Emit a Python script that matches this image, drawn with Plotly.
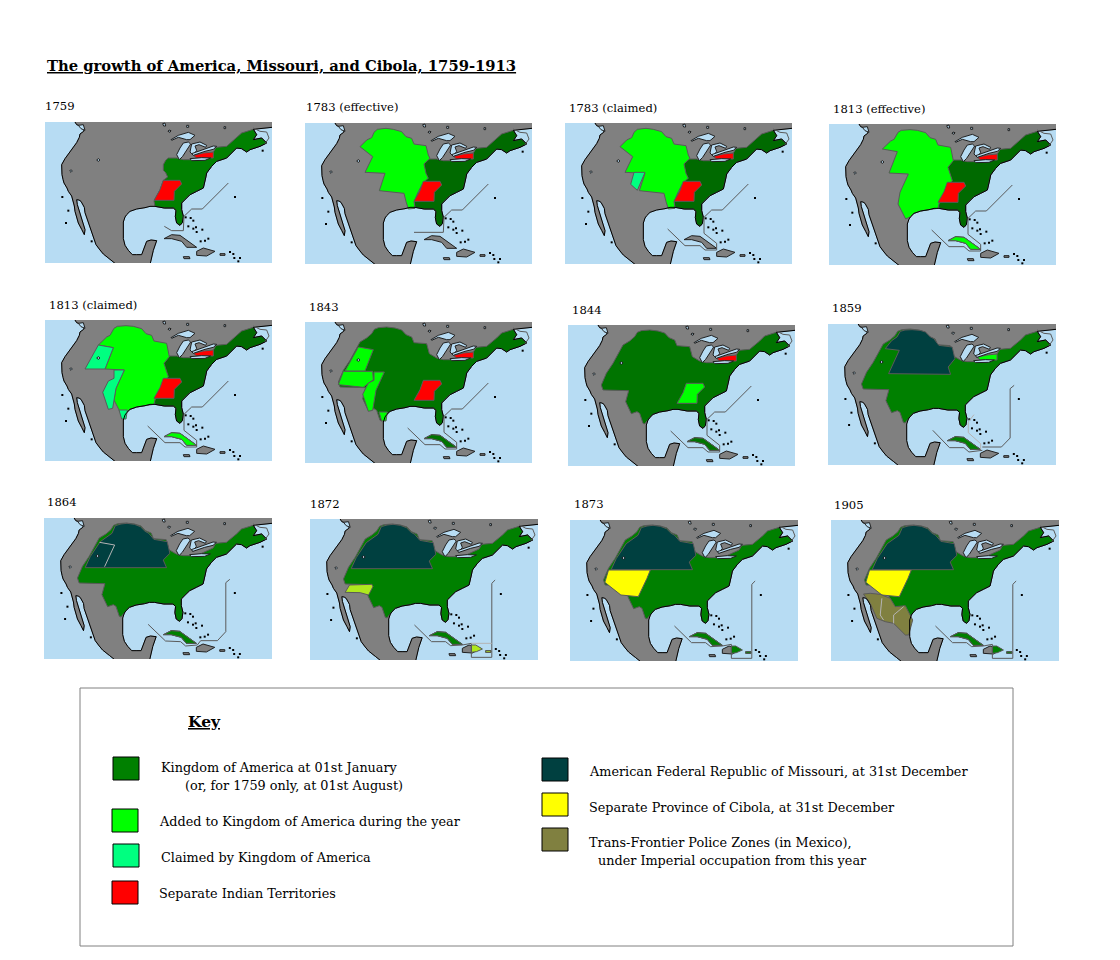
import plotly.graph_objs as go

# page size and the default body margin of the written page
PAGE_W = 1104
PAGE_H = 944
BODY = 8

# map units: the reference map at 3x, same drawing in every panel
MAP_W = 681
MAP_H = 423

LAND = [(90, -5), (90, 0), (95, 8), (106, 12), (118, 20), (116, 28), (105, 36), (103, 46), (95, 62), (86, 74), (78, 88),
        (68, 98), (60, 110), (50, 128), (50, 142), (51, 158), (54, 172), (57, 183), (66, 198), (70, 208), (80, 222),
        (85, 238), (88, 252), (90, 268), (96, 288), (100, 303), (110, 322), (118, 338), (120, 323),
        (110, 293), (103, 270), (97, 248), (95, 233), (102, 234), (108, 238), (118, 256), (120, 272), (127, 293), (134, 310),
        (140, 328), (148, 350), (153, 368), (165, 384), (175, 396), (195, 412),
        (215, 428), (315, 428), (320, 405), (325, 385), (335, 356), (318, 354), (305, 358), (298, 380), (290, 398),
        (275, 398), (262, 398), (250, 385), (240, 370), (235, 350),
        (235, 330), (235, 300), (240, 285), (245, 278), (255, 268), (275, 261), (300, 257), (315, 253), (330, 253),
        (358, 258), (385, 258), (393, 265), (391, 284), (395, 303),
        (405, 310), (412, 302), (415, 283), (410, 263), (410, 243), (422, 230), (435, 218), (455, 208), (475, 198), (482, 168),
        (485, 153), (500, 133), (515, 118), (545, 108), (555, 98),
        (575, 78), (590, 80), (605, 90), (615, 83), (645, 73), (665, 63), (650, 48), (625, 53), (635, 38), (625, 22), (655, 18),
        (690, 15), (690, -5), (90, -5)]

EAST_COAST = [(415, 113), (455, 113), (505, 90), (513, 76), (545, 73), (575, 48), (590, 33), (625, 22), (635, 38),
              (625, 53), (650, 48), (665, 63), (645, 73), (615, 83), (605, 90), (590, 80), (575, 78), (555, 98), (545, 108),
              (515, 118), (500, 133), (485, 153), (482, 168), (475, 198), (455, 208), (435, 218), (422, 230), (410, 243),
              (410, 263), (415, 283), (412, 302), (405, 310), (395, 303), (391, 284),
              (393, 265), (385, 258), (358, 258), (330, 253)]

KINGDOM_EAST = [(355, 128), (362, 115), (370, 108), (395, 108)] + EAST_COAST + [(327, 238), (345, 203), (355, 175), (368, 165), (362, 152), (355, 145)]
KINGDOM_ALL = [(100, 180), (115, 145), (135, 115), (165, 60), (185, 48), (200, 35), (208, 22), (220, 17), (245, 15), (270, 18), (290, 24), (303, 38),
               (320, 45), (327, 62), (365, 65), (373, 95), (395, 108)] + EAST_COAST + [(315, 253), (300, 257), (275, 261), (255, 268), (245, 278), (230, 297),
               (225, 295), (215, 265), (207, 260), (190, 266), (173, 230), (182, 197), (105, 195)]

RED_SOUTH = [(355, 175), (405, 175), (410, 186), (388, 208), (387, 235), (327, 235), (345, 203)]
RED_NORTH = [(445, 100), (475, 93), (505, 90), (505, 108), (455, 108)]

WEST_1783 = [(165, 71), (185, 51), (200, 44), (207, 28), (217, 19), (243, 16), (265, 19), (290, 26), (303, 41), (320, 46), (327, 63), (363, 68), (370, 96), (375, 106),
             (357, 123), (363, 151), (370, 166), (355, 178), (340, 206), (327, 236), (330, 256), (310, 258), (303, 236), (297, 211), (223, 203), (240, 151),
             (180, 148), (203, 101)]
CLAIM_1783 = [(207, 148), (240, 148), (217, 202), (197, 184)]
WEST_1813 = [(160, 75), (185, 51), (195, 46), (207, 25), (217, 19), (243, 17), (265, 19), (290, 26), (303, 41), (320, 46), (327, 63), (365, 70), (373, 110),
             (357, 130), (370, 170), (345, 205), (330, 240), (327, 253), (300, 257), (275, 261), (255, 268), (245, 278), (230, 285), (222, 270),
             (207, 240), (213, 205), (238, 150), (180, 147), (205, 83)]
OREGON = [(120, 147), (160, 75), (205, 83), (180, 147)]
CLAIM_BAND = [(207, 150), (238, 150), (213, 205), (207, 235), (203, 265), (190, 268), (173, 217), (190, 183), (207, 175)]
TEXAS_TIP = [(222, 270), (247, 270), (243, 297), (230, 297)]
ADDED_MID = [(115, 148), (203, 148), (205, 173), (175, 196), (100, 188)]

MISSOURI_1859 = [(171, 74), (190, 50), (206, 39), (216, 22), (230, 18), (251, 17), (275, 19), (291, 24), (305, 38), (316, 44), (331, 64), (371, 69), (379, 104),
                 (359, 129), (366, 151), (181, 149), (213, 79)]
MISSOURI_1864 = [(123, 149), (138, 116), (168, 71), (203, 46), (213, 23), (230, 18), (248, 16), (270, 19), (288, 26), (302, 40), (313, 46), (328, 64),
                 (368, 71), (376, 106), (356, 126), (366, 149)]
PATCH_1872 = [(118, 198), (185, 196), (188, 203), (175, 228), (150, 221), (105, 220)]
CIBOLA = [(115, 150), (240, 150), (230, 175), (204, 230), (152, 225), (104, 187)]
POLICE = [(97, 222), (117, 220), (147, 223), (177, 235), (192, 260), (222, 257), (244, 300), (232, 345), (222, 345),
          (187, 310), (162, 305), (137, 295), (117, 250)]

CUBA = [(357, 350), (380, 338), (405, 340), (435, 360), (455, 376), (425, 376), (410, 358), (380, 350)]
HISPANIOLA = [(455, 388), (475, 378), (510, 388), (485, 402), (455, 400)]
HISP_EAST = [(482, 378), (495, 378), (515, 390), (497, 398), (482, 400)]
JAMAICA = [(415, 404), (433, 404), (435, 410), (417, 410)]
PUERTO_RICO = [(525, 395), (540, 395), (540, 400), (525, 400)]

LAKES = [[(378, 53), (400, 40), (430, 31), (450, 40), (435, 53), (425, 53), (400, 46), (380, 55)],
         [(415, 63), (430, 60), (437, 66), (425, 83), (413, 103), (403, 113), (395, 98), (405, 78)],
         [(440, 66), (465, 60), (485, 70), (482, 76), (462, 68), (450, 72), (455, 85), (445, 100), (435, 90)],
         [(445, 100), (480, 88), (505, 82), (515, 73), (505, 72), (475, 82), (440, 95)],
         [(435, 110), (470, 107), (497, 108), (480, 115), (440, 116)],
         [(353, 5), (360, 3), (362, 12), (356, 12)],
         [(372, 24), (378, 26), (375, 31), (369, 28)],
         [(425, 10), (431, 10), (431, 16), (425, 16)],
         [(537, 14), (542, 14), (542, 20), (537, 20)],
         [(100, 10), (115, 8), (120, 25), (108, 20)],
         [(160, 110), (165, 114), (160, 118), (155, 114)],
         [(78, 143), (82, 147), (78, 151), (74, 147)]]

SPECK_U = [52, 70, 63, 140, 422, 437, 445, 430, 445, 453, 455, 472, 467, 480, 490, 555, 565, 585, 580, 568, 570, 653]
SPECK_V = [225, 266, 303, 358, 286, 288, 296, 313, 320, 316, 330, 323, 358, 356, 350, 390, 396, 408, 418, 408, 225, 86]

NEWFOUNDLAND = [(625, 18), (645, 28), (665, 30), (672, 48), (660, 65)]

ROUTE_1759 = [(550, 183), (472, 261), (440, 261), (417, 283), (415, 326), (380, 326), (358, 313)]
ROUTE_1783E = [(550, 183), (472, 261), (440, 261), (417, 283), (415, 328), (327, 328)]
ROUTE_1783C = [(550, 183), (472, 261), (440, 261), (417, 283), (417, 331), (455, 361), (455, 381), (420, 381),
               (405, 368), (360, 368), (308, 318)]
ROUTE_1859A = [(556, 184), (544, 194), (544, 342), (518, 369), (461, 369)]
ROUTE_1859B = [(313, 319), (363, 371), (406, 371), (421, 384), (461, 379)]
ROUTE_1859L = [(436, 272), (419, 294), (419, 326), (456, 359), (456, 376)]
ROUTE_1864 = [(555, 184), (543, 194), (543, 341), (518, 368), (468, 368), (458, 381), (423, 384), (408, 371),
              (363, 369), (311, 319)]
ROUTE_1872 = [(553, 183), (543, 193), (543, 415), (482, 415), (482, 373), (455, 378), (420, 380), (405, 368),
              (363, 368), (312, 318)]
ROUTE_1872L = [(482, 373), (543, 373)]
LINE_1864 = [(166, 73), (211, 81), (181, 146)]
LINE_1905A = [(152, 235), (147, 285), (157, 300)]
LINE_1905B = [(217, 260), (187, 285), (187, 310)]

SEA = "#b7dcf3"
GRAY = "#808080"
KINGDOM = "#008000"
KINGDOM_DARK = "#006a00"
KINGDOM_MID = "#007400"
ADDED = "#00ff00"
CLAIMED = "#00ff80"
RED = "#ff0000"
MISSOURI = "#004040"
YELLOW = "#ffff00"
PATCH = "#aee81e"
OLIVE = "#808040"
BORDER = "#5a5a5a"
PALE = "#b4b4b4"

# label, label x, label y, map left, map top, map width
PANELS = [
    ("1759", 45, 106, 45, 122, 227),
    ("1783 (effective)", 306, 107, 305, 123, 227),
    ("1783 (claimed)", 569, 108, 565, 123, 227),
    ("1813 (effective)", 833, 109, 829, 124, 227),
    ("1813 (claimed)", 49, 305, 45, 320, 227),
    ("1843", 309, 307, 305, 322, 227),
    ("1844", 572, 310, 568, 325, 227),
    ("1859", 832, 308, 828, 324, 228),
    ("1864", 47, 502, 44, 518, 228),
    ("1872", 310, 504, 310, 519, 228),
    ("1873", 574, 504, 570, 520, 228),
    ("1905", 834, 505, 831, 520, 228),
]

LAYERS = {
    "1759": [(KINGDOM_EAST, KINGDOM), (RED_SOUTH, RED), (RED_NORTH, RED)],
    "1783 (effective)": [(KINGDOM_EAST, KINGDOM_DARK), (WEST_1783, ADDED), (RED_SOUTH, RED), (RED_NORTH, RED)],
    "1783 (claimed)": [(KINGDOM_EAST, KINGDOM_DARK), (WEST_1783, ADDED), (CLAIM_1783, CLAIMED), (RED_SOUTH, RED), (RED_NORTH, RED)],
    "1813 (effective)": [(KINGDOM_EAST, KINGDOM_DARK), (WEST_1813, ADDED), (RED_SOUTH, RED), (RED_NORTH, RED), (CUBA, ADDED)],
    "1813 (claimed)": [(KINGDOM_EAST, KINGDOM_DARK), (WEST_1813, ADDED), (OREGON, CLAIMED), (CLAIM_BAND, CLAIMED), (TEXAS_TIP, CLAIMED),
                       (RED_SOUTH, RED), (RED_NORTH, RED), (CUBA, ADDED)],
    "1843": [(KINGDOM_ALL, KINGDOM_MID), (OREGON, ADDED), (ADDED_MID, ADDED), (CLAIM_BAND, ADDED), (TEXAS_TIP, ADDED),
             (RED_SOUTH, RED), (RED_NORTH, RED), (CUBA, KINGDOM_MID)],
    "1844": [(KINGDOM_ALL, KINGDOM_MID), (RED_SOUTH, ADDED), (RED_NORTH, RED), (CUBA, KINGDOM_MID)],
    "1859": [(KINGDOM_ALL, KINGDOM), (MISSOURI_1859, MISSOURI), (RED_NORTH, ADDED), (CUBA, KINGDOM)],
    "1864": [(KINGDOM_ALL, KINGDOM), (MISSOURI_1864, MISSOURI), (CUBA, KINGDOM)],
    "1872": [(KINGDOM_ALL, KINGDOM), (MISSOURI_1864, MISSOURI), (PATCH_1872, PATCH), (CUBA, KINGDOM), (HISP_EAST, PATCH), (PUERTO_RICO, PATCH)],
    "1873": [(KINGDOM_ALL, KINGDOM), (MISSOURI_1864, MISSOURI), (CIBOLA, YELLOW), (CUBA, KINGDOM), (HISP_EAST, KINGDOM), (PUERTO_RICO, KINGDOM)],
    "1905": [(KINGDOM_ALL, KINGDOM), (MISSOURI_1864, MISSOURI), (CIBOLA, YELLOW), (POLICE, OLIVE), (CUBA, KINGDOM), (HISP_EAST, KINGDOM), (PUERTO_RICO, KINGDOM)],
}

ROUTES = {
    "1759": [(ROUTE_1759, BORDER)],
    "1783 (effective)": [(ROUTE_1783E, BORDER)],
    "1783 (claimed)": [(ROUTE_1783C, BORDER)],
    "1813 (effective)": [(ROUTE_1783C, BORDER)],
    "1813 (claimed)": [(ROUTE_1783C, BORDER)],
    "1843": [(ROUTE_1783C, BORDER)],
    "1844": [(ROUTE_1783C, BORDER)],
    "1859": [(ROUTE_1859A, BORDER), (ROUTE_1859B, BORDER), (ROUTE_1859L, PALE)],
    "1864": [(ROUTE_1864, BORDER), (LINE_1864, PALE)],
    "1872": [(ROUTE_1872, BORDER), (ROUTE_1872L, PALE)],
    "1873": [(ROUTE_1872, BORDER)],
    "1905": [(ROUTE_1872, BORDER), (LINE_1905A, PALE), (LINE_1905B, PALE)],
}

TITLE = "The growth of America, Missouri, and Cibola, 1759-1913"
KEY_LABELS = [("Kingdom of America at 01st January", 161, 767),
              ("(or, for 1759 only, at 01st August)", 185, 785),
              ("Added to Kingdom of America during the year", 159, 821),
              ("Claimed by Kingdom of America", 161, 857),
              ("Separate Indian Territories", 159, 893),
              ("American Federal Republic of Missouri, at 31st December", 589, 771),
              ("Separate Province of Cibola, at 31st December", 589, 807),
              ("Trans-Frontier Police Zones (in Mexico),", 589, 842),
              ("under Imperial occupation from this year", 598, 860)]
KEY_SWATCHES = [(113, 757, KINGDOM), (112, 809, ADDED), (113, 844, CLAIMED), (112, 881, RED),
                (542, 758, MISSOURI), (542, 793, YELLOW), (542, 828, OLIVE)]


def px(x):
    return (x - BODY) / PAGE_W


def py(y):
    return 1 - (y - BODY) / PAGE_H


def xs(points):
    return [p[0] for p in points] + [points[0][0]]


def ys(points):
    return [p[1] for p in points] + [points[0][1]]


def poly(points, fill, line, axes, width=1):
    return go.Scatter(x=xs(points), y=ys(points), mode="lines", fill="toself", fillcolor=fill,
                      line=dict(color=line, width=width), hoverinfo="skip", showlegend=False,
                      xaxis=axes[0], yaxis=axes[1])


def path(points, color, axes):
    return go.Scatter(x=[p[0] for p in points], y=[p[1] for p in points], mode="lines",
                      line=dict(color=color, width=1), hoverinfo="skip", showlegend=False,
                      xaxis=axes[0], yaxis=axes[1])


fig = go.Figure()
layout_axes = {}
notes = []

for i, (name, lx, ly, left, top, mw) in enumerate(PANELS):
    n = "" if i == 0 else str(i + 1)
    axes = ("x" + n, "y" + n)
    layout_axes["xaxis" + n] = dict(domain=[px(left), px(left + mw)], range=[0, MAP_W], visible=False,
                                    fixedrange=True, anchor="y" + n)
    layout_axes["yaxis" + n] = dict(domain=[py(top + 141), py(top)], range=[MAP_H, 0], visible=False,
                                    fixedrange=True, anchor="x" + n)

    fig.add_trace(poly(LAND, GRAY, GRAY, axes))
    for island in [CUBA, HISPANIOLA, JAMAICA, PUERTO_RICO]:
        fig.add_trace(poly(island, GRAY, "#202020", axes))
    for shape, fill in LAYERS[name]:
        fig.add_trace(poly(shape, fill, BORDER, axes))
    # coast goes over the regions, lakes over everything
    fig.add_trace(path(LAND, "#000000", axes))
    fig.add_trace(path(NEWFOUNDLAND, BORDER, axes))
    for lake in LAKES:
        fig.add_trace(poly(lake, SEA, "#202020", axes))
    fig.add_trace(go.Scatter(x=SPECK_U, y=SPECK_V, mode="markers",
                             marker=dict(symbol="square", size=2, color="#000000"),
                             hoverinfo="skip", showlegend=False, xaxis=axes[0], yaxis=axes[1]))
    for route, color in ROUTES[name]:
        fig.add_trace(path(route, color, axes))

    notes.append(dict(text=name, x=px(lx - 2), y=py(ly), xref="paper", yref="paper", xanchor="left", yanchor="middle",
                      showarrow=False, font=dict(family="DejaVu Serif", size=11.6, color="#000000")))

notes.append(dict(text="<u>" + TITLE + "</u>", x=px(45), y=py(65), xref="paper", yref="paper", xanchor="left",
                  yanchor="middle", showarrow=False,
                  font=dict(family="DejaVu Serif", size=14.75, color="#000000", weight="bold")))
notes.append(dict(text="<u>Key</u>", x=px(186), y=py(721), xref="paper", yref="paper", xanchor="left",
                  yanchor="middle", showarrow=False,
                  font=dict(family="DejaVu Serif", size=15.5, color="#000000", weight="bold")))
for text, x, y in KEY_LABELS:
    notes.append(dict(text=text, x=px(x - 2), y=py(y), xref="paper", yref="paper", xanchor="left", yanchor="middle",
                      showarrow=False, font=dict(family="DejaVu Serif", size=12.8, color="#000000")))

shapes = [dict(type="rect", xref="paper", yref="paper", x0=px(80), x1=px(1013), y0=py(946), y1=py(688),
               line=dict(color="#808080", width=1), fillcolor="rgba(0,0,0,0)")]
for x, y, color in KEY_SWATCHES:
    shapes.append(dict(type="rect", xref="paper", yref="paper", x0=px(x), x1=px(x + 26), y0=py(y + 23), y1=py(y),
                       line=dict(color="#000000", width=1), fillcolor=color))

fig.update_layout(width=PAGE_W, height=PAGE_H, margin=dict(l=0, r=0, t=0, b=0, pad=0),
                  paper_bgcolor="#ffffff", plot_bgcolor=SEA, showlegend=False,
                  annotations=notes, shapes=shapes, **layout_axes)

fig.write_html("out.html", config=dict(displayModeBar=False))
